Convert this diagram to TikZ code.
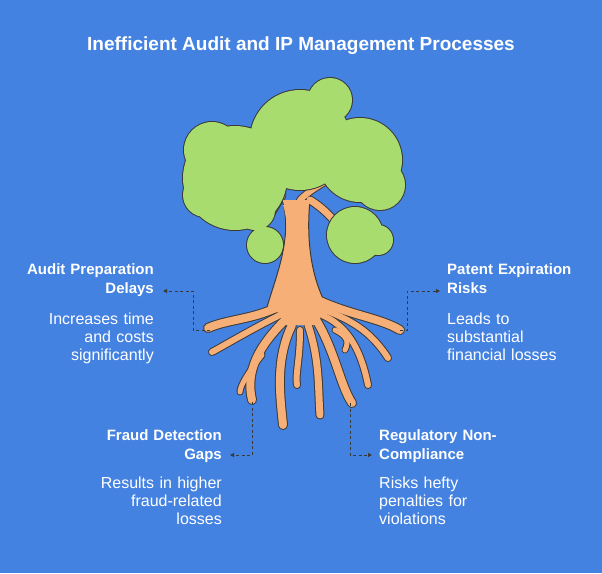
\documentclass[tikz,border=0pt]{standalone}
\usepackage{fontspec}
\setmainfont{Liberation Sans}
\usetikzlibrary{arrows.meta}
\definecolor{bg}{HTML}{4482E2}
\definecolor{leaf}{HTML}{A8DC6E}
\definecolor{bark}{HTML}{F7AF78}
\definecolor{ink}{HTML}{3A3A3A}
\begin{document}
\begin{tikzpicture}[x=1pt,y=-1pt,
  conn/.style={draw=ink,dashed,dash pattern=on 3pt off 2.5pt,line width=1pt,-{Triangle[length=4pt,width=4pt]}},
  head/.style={text=white,font=\bfseries\fontsize{15}{19}\selectfont,inner sep=0pt,text width=160pt},
  desc/.style={text=white,font=\fontsize{16}{18}\selectfont,inner sep=0pt,text width=160pt},
  rootO/.style={draw=ink,line width=#1+2pt,line cap=round},
  rootI/.style={draw=bark,line width=#1,line cap=round}]
\fill[bg] (0,0) rectangle (602,573);
\useasboundingbox (0,0) rectangle (602,573);
\node[text=white,font=\bfseries\fontsize{19}{22}\selectfont] (title) at (301,46) {Inefficient Audit and IP Management Processes};
% roots & trunk
\def\roots#1{
 \draw[#1=8pt] (290,300) .. controls (260,320) and (230,318) .. (208,328);
 \draw[#1=6pt] (280,315) .. controls (250,330) and (225,345) .. (212,352);
 \draw[#1=8pt] (285,320) .. controls (260,345) and (245,370) .. (252,400);
 \draw[#1=5pt] (262,355) .. controls (250,370) and (240,385) .. (240,392);
 \draw[#1=8pt] (292,325) .. controls (275,360) and (280,395) .. (283,425);
 \draw[#1=6pt] (300,330) .. controls (300,360) and (295,375) .. (297,385);
 \draw[#1=7pt] (308,325) .. controls (320,360) and (318,390) .. (320,415);
 \draw[#1=8pt] (315,318) .. controls (335,350) and (340,385) .. (352,403);
 \draw[#1=6pt] (322,315) .. controls (345,325) and (360,345) .. (368,385);
 \draw[#1=5pt] (335,330) .. controls (345,335) and (350,340) .. (345,350);
 \draw[#1=6pt] (325,310) .. controls (350,320) and (370,330) .. (388,358);
 \draw[#1=8pt] (318,300) .. controls (350,315) and (380,318) .. (400,330);
 \draw[#1=7pt] (282,195) -- (270,215) ;
 \draw[#1=7pt] (310,200) .. controls (318,205) and (325,210) .. (338,225);
 \draw[#1=6pt] (300,200) .. controls (310,190) and (320,185) .. (328,180);
}
\roots{rootO}
\fill[bark] (282,200) .. controls (295,240) and (270,290) .. (266,312)
  -- (332,314) .. controls (315,290) and (305,250) .. (310,200) -- cycle;
\draw[ink,line width=1pt] (282,200) .. controls (295,240) and (270,290) .. (266,312);
\draw[ink,line width=1pt] (332,314) .. controls (315,290) and (305,250) .. (310,200);
\roots{rootI}
\fill[bark] (283,205) .. controls (295,240) and (272,290) .. (269,306)
  -- (329,308) .. controls (312,290) and (303,250) .. (308,205) -- cycle;
\fill[bark] (272,300) -- (326,300) -- (318,325) -- (285,325) -- cycle;
% canopy
\def\blobs#1{
 \path[#1] (235,178) circle (52) (212,150) circle (28) (205,195) circle (22)
 (300,140) circle (50) (330,100) circle (22) (360,160) circle (42) (380,185) circle (25)
 (355,235) circle (28) (378,240) circle (15) (265,245) circle (18) (255,210) circle (20);
}
\blobs{draw=ink,line width=2pt}
\blobs{fill=leaf}
% connectors
\coordinate (a0) at (210,330); \coordinate (a1) at (163,291);
\coordinate (b0) at (400,330); \coordinate (b1) at (440,291);
\coordinate (c0) at (252,402); \coordinate (c1) at (230,455);
\coordinate (d0) at (350,403); \coordinate (d1) at (372,455);
\draw[conn] (a0) -| (193,291) -- (a1);
\draw[conn] (b0) -| (407,291) -- (b1);
\draw[conn] (c0) |- (c1);
\draw[conn] (d0) |- (d1);
% labels
\node[head,align=right,anchor=north east] (ah) at (154,263) {Audit Preparation\\Delays};
\node[desc,align=right,anchor=north east] (ad) at (154,313) {Increases time\\and costs\\significantly};
\node[head,align=left,anchor=north west] (bh) at (447,263) {Patent Expiration\\Risks};
\node[desc,align=left,anchor=north west] (bd) at (447,313) {Leads to\\substantial\\financial losses};
\node[head,align=right,anchor=north east] (ch) at (222,429) {Fraud Detection\\Gaps};
\node[desc,align=right,anchor=north east] (cd) at (222,477) {Results in higher\\fraud-related\\losses};
\node[head,align=left,anchor=north west] (dh) at (379,429) {Regulatory Non-\\Compliance};
\node[desc,align=left,anchor=north west] (dd) at (379,477) {Risks hefty\\penalties for\\violations};
\end{tikzpicture}
\end{document}
